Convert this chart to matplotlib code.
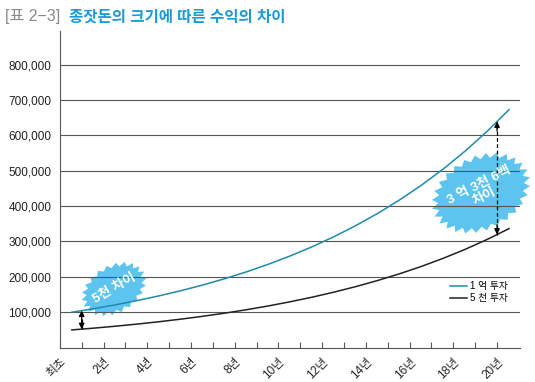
import numpy as np
import matplotlib
matplotlib.use("Agg")
import matplotlib.pyplot as plt
from matplotlib.patches import Polygon

plt.rcParams['font.family'] = ['Liberation Sans', 'Noto Sans CJK KR', 'DejaVu Sans']

# ---- data ----
years = list(range(21))
invest_1eok = [100000, 110000, 121000, 133100, 146410, 161051, 177156, 194872, 214359,
               235795, 259374, 285312, 313843, 345227, 379750, 417725, 459497, 505447,
               555992, 611591, 672750]
invest_5cheon = [50000, 55000, 60500, 66550, 73205, 80526, 88578, 97436, 107179,
                 117897, 129687, 142656, 156921, 172614, 189875, 208862, 229749, 252724,
                 277996, 305795, 336375]
tick_labels = ['최초', '', '2년', '', '4년', '', '6년', '', '8년', '', '10년', '', '12년', '',
               '14년', '', '16년', '', '18년', '', '20년']
yticks = [100000, 200000, 300000, 400000, 500000, 600000, 700000, 800000]
series_labels = ['1 억 투자', '5 천 투자']
title_prefix = '[표 2−3]'
title_main = '종잣돈의 크기에 따른 수익의 차이'
small_note = '5천 차이'
big_note = '3 억 3천 6백\n차이'

W, H = 535, 382
fig = plt.figure(figsize=(W / 100, H / 100), dpi=100)
ax = fig.add_axes([59.8 / W, 1 - 347.6 / H, (520 - 59.8) / W, (347.6 - 31) / H])

offset = 0.55
x = np.array(years, dtype=float)
teal = '#1f8aad'
ax.plot(x, invest_1eok, color=teal, lw=1.1, zorder=4, label=series_labels[0])
ax.plot(x, invest_5cheon, color='#222222', lw=1.1, zorder=4, label=series_labels[1])

ax.set_xlim(-offset, 20.5)
ax.set_ylim(0, 895000)
ax.set_yticks(yticks)
ax.set_yticklabels([f'{v:,}' for v in yticks], fontsize=8.5, color='#222222')
ax.yaxis.grid(True, color='#555555', lw=0.8, zorder=3)
ax.set_axisbelow(False)
ax.tick_params(axis='y', length=0, pad=6)

tick_pos = [k - offset for k in years]
ax.set_xticks(tick_pos)
ax.set_xticklabels(tick_labels, fontsize=8.5, color='#222222', rotation=45,
                   ha='right', va='top', rotation_mode='anchor')
ax.tick_params(axis='x', direction='in', length=4, width=0.8, color='#555555', pad=6)

for s in ['top', 'right']:
    ax.spines[s].set_visible(False)
for s in ['left', 'bottom']:
    ax.spines[s].set_color('#555555')
    ax.spines[s].set_linewidth(0.8)

# ---- difference arrows ----
def diff_arrow(xpos):
    yt = np.interp(xpos, x, invest_1eok)
    yb = np.interp(xpos, x, invest_5cheon)
    ax.plot([xpos, xpos], [yb, yt], ls=(0, (3, 2)), color='black', lw=0.9, zorder=6)
    for yend, d in ((yt, -7), (yb, 7)):
        ax.annotate('', xy=(xpos, yend), xytext=(0, d), textcoords='offset points',
                    arrowprops=dict(arrowstyle='-|>', color='black', lw=0.9,
                                    mutation_scale=8, shrinkA=0, shrinkB=0), zorder=6)

diff_arrow(1 - offset)
diff_arrow(20 - offset)

# ---- starbursts ----
def starburst(cx, cy, a, b, ang, n, depth):
    t = np.linspace(0, 2 * np.pi, 2 * n, endpoint=False)
    r = np.where(np.arange(2 * n) % 2 == 0, 1.0, 1.0 - depth)
    px = a * r * np.cos(t)
    py = b * r * np.sin(t)
    th = np.deg2rad(ang)
    rx = px * np.cos(th) - py * np.sin(th)
    ry = px * np.sin(th) + py * np.cos(th)
    pts = np.column_stack([(cx + rx) / W, 1 - (cy - ry) / H])
    poly = Polygon(pts, closed=True, facecolor='#5cc4ef', edgecolor='none',
                   transform=fig.transFigure, zorder=2, clip_on=False)
    ax.add_patch(poly)

starburst(114, 289, 35, 24, 30, 22, 0.16)
starburst(481, 193, 52, 37, 27, 28, 0.13)

fig.text(114 / W, 1 - 289 / H, small_note, color='white', fontsize=9.5, fontweight='bold',
         rotation=30, ha='center', va='center', zorder=5)
fig.text(482 / W, 1 - 191 / H, big_note, color='white', fontsize=9.5, fontweight='bold',
         rotation=27, ha='center', va='center', multialignment='center',
         linespacing=1.05, zorder=5)

# ---- legend ----
ax.legend(loc='upper left', bbox_to_anchor=(450 / W, 1 - 281 / H),
          bbox_transform=fig.transFigure, frameon=False, fontsize=7,
          handlelength=1.7, handletextpad=0.4, labelspacing=0.25,
          borderpad=0, borderaxespad=0)

# ---- title ----
fig.text(5 / W, 1 - 17 / H, title_prefix, color='#8a8a8a', fontsize=11.5,
         ha='left', va='center')
fig.text(69 / W, 1 - 17 / H, title_main, color='#1a9ad6', fontsize=11.2,
         fontweight='bold', ha='left', va='center')

fig.savefig('out.png', dpi=100)
